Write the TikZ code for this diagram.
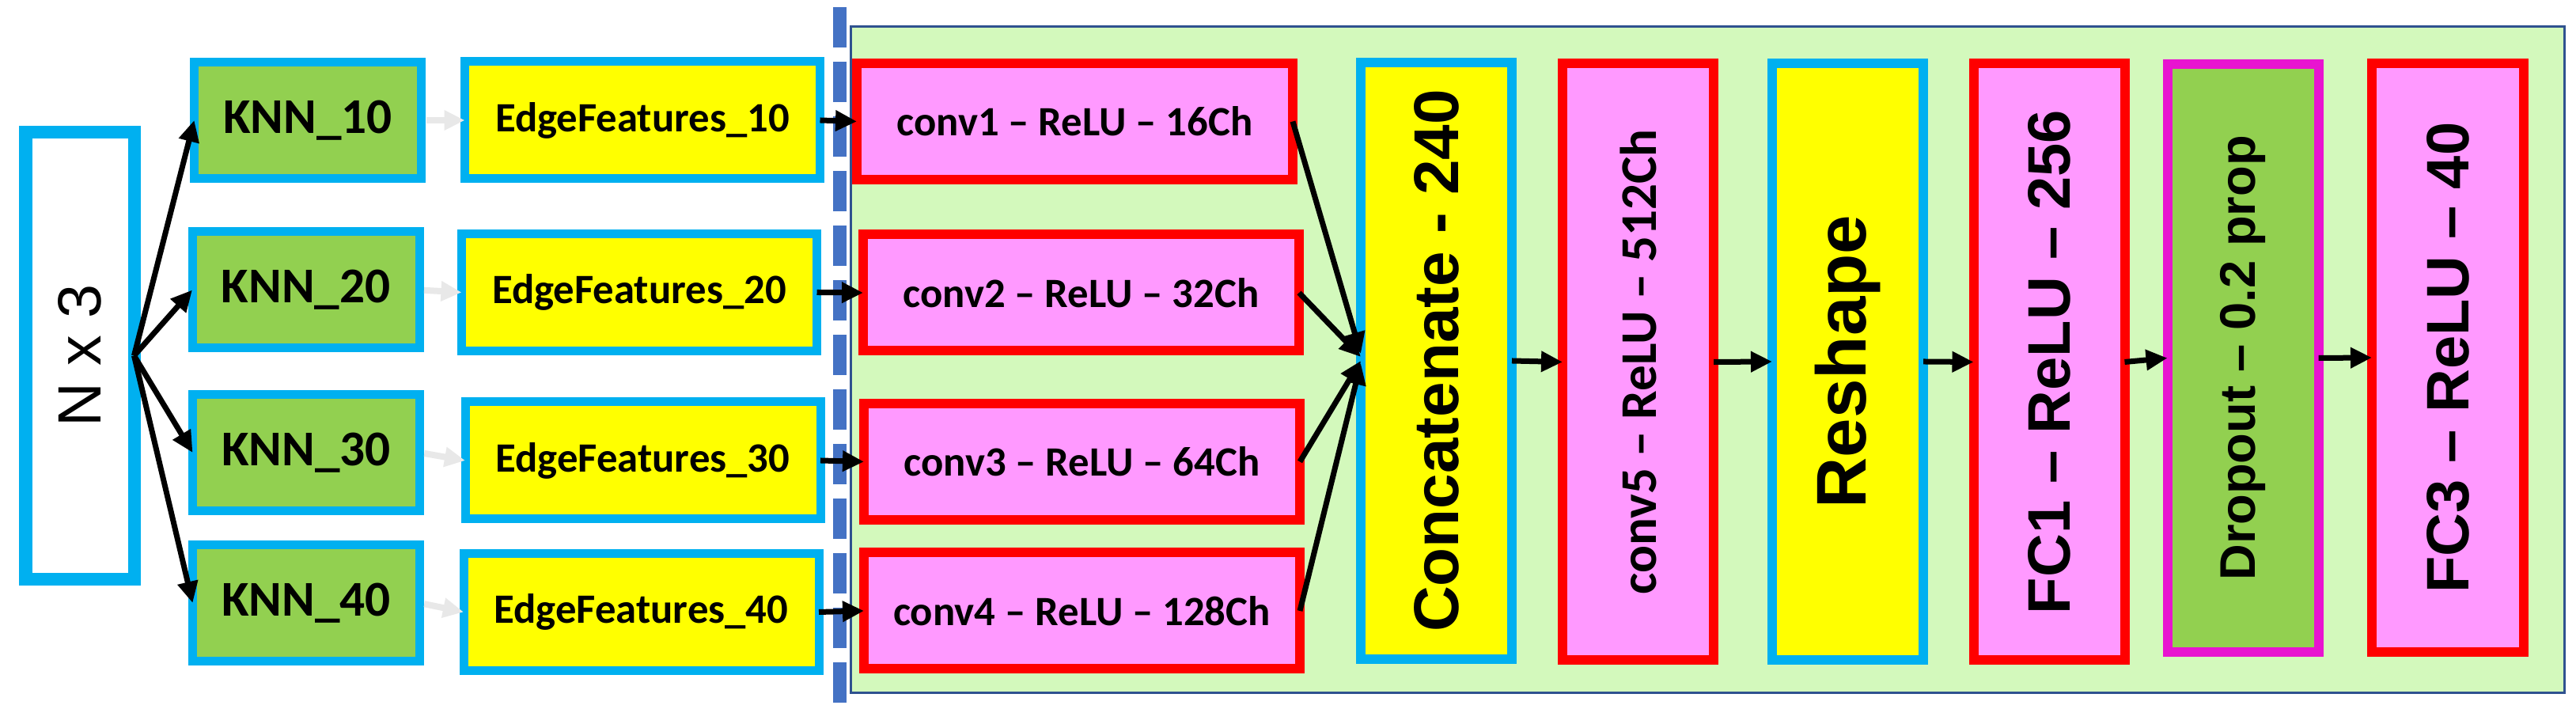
\documentclass[tikz,border=0pt]{standalone}
\usepackage{fontspec}
\usepackage{graphicx}
\usetikzlibrary{arrows.meta}
\newfontfamily\calfont{Carlito}
\newfontfamily\arfont{Liberation Sans}
\definecolor{cyanb}{RGB}{0,176,240}
\definecolor{grn}{RGB}{146,208,80}
\definecolor{yel}{RGB}{255,255,0}
\definecolor{pnk}{RGB}{255,153,255}
\definecolor{rd}{RGB}{255,0,0}
\definecolor{mag}{RGB}{232,20,208}
\definecolor{bgg}{RGB}{211,249,188}
\definecolor{bgb}{RGB}{47,82,143}
\definecolor{dashb}{RGB}{68,114,196}
\definecolor{lgrey}{RGB}{232,232,232}
\tikzset{
  box/.style={draw, line width=0.12cm, inner sep=0pt, outer sep=0pt, align=center},
  knnbox/.style={box, draw=cyanb, fill=grn, line width=0.11cm, minimum width=2.87cm, minimum height=1.47cm,
     font=\calfont\bfseries\fontsize{18pt}{21pt}\selectfont},
  efbox/.style={box, draw=cyanb, fill=yel, line width=0.11cm, minimum width=4.49cm, minimum height=1.48cm,
     font=\calfont\bfseries\fontsize{15pt}{18pt}\selectfont},
  convbox/.style={box, draw=rd, fill=pnk, minimum width=5.51cm, minimum height=1.47cm,
     font=\calfont\bfseries\fontsize{15pt}{18pt}\selectfont},
  tallbox/.style={box, minimum width=1.91cm, minimum height=7.54cm},
  arr/.style={draw=black, line width=0.07cm, -{Triangle[length=0.27cm,width=0.25cm]}},
  garr/.style={draw=lgrey, line width=0.08cm, -{Triangle[length=0.26cm,width=0.24cm]}, shorten <=0.06cm},
}
\begin{document}
\begin{tikzpicture}
\useasboundingbox (0,0) rectangle (32.56,8.96);
\fill[white] (0,0) rectangle (32.56,8.96);

% container
\node[draw=bgb, fill=bgg, line width=0.03cm, inner sep=0pt, outer sep=0pt,
      minimum width=21.66cm, minimum height=8.42cm] (bg) at (21.585,4.415) {};

% dashed separator
\coordinate (dtop) at (10.61,8.87);
\coordinate (dbot) at (10.61,0.08);
\draw[dashb, line width=0.17cm, dash pattern=on 0.51cm off 0.18cm] (dtop) -- (dbot);

% input
\node[box, draw=cyanb, fill=white, line width=0.16cm, minimum width=1.37cm, minimum height=5.65cm] (nx3) at (1.01,4.465)
  {\rotatebox{90}{\arfont\fontsize{22pt}{26pt}\selectfont N x 3}};

% KNN
\node[knnbox] (k1) at (3.89,7.44) {KNN\_10};
\node[knnbox] (k2) at (3.865,5.295) {KNN\_20};
\node[knnbox] (k3) at (3.87,3.24) {KNN\_30};
\node[knnbox] (k4) at (3.87,1.34) {KNN\_40};

% Edge features
\node[efbox] (e1) at (8.12,7.44) {EdgeFeatures\_10};
\node[efbox] (e2) at (8.08,5.265) {EdgeFeatures\_20};
\node[efbox] (e3) at (8.125,3.14) {EdgeFeatures\_30};
\node[efbox] (e4) at (8.105,1.225) {EdgeFeatures\_40};

% conv
\node[convbox] (c1) at (13.585,7.425) {conv1 – ReLU – 16Ch};
\node[convbox] (c2) at (13.665,5.26) {conv2 – ReLU – 32Ch};
\node[convbox] (c3) at (13.675,3.125) {conv3 – ReLU – 64Ch};
\node[convbox] (c4) at (13.675,1.24) {conv4 – ReLU – 128Ch};

% tall boxes
\node[tallbox, draw=cyanb, fill=yel] (cat) at (18.155,4.40)
  {\rotatebox{90}{\arfont\bfseries\fontsize{22.8pt}{26pt}\selectfont Concatenate - 240}};
\node[tallbox, draw=rd, fill=pnk] (c5) at (20.705,4.385)
  {\rotatebox{90}{\calfont\bfseries\fontsize{18.5pt}{22pt}\selectfont conv5 – ReLU – 512Ch}};
\node[tallbox, draw=cyanb, fill=yel] (rs) at (23.355,4.39)
  {\rotatebox{90}{\arfont\bfseries\fontsize{25.3pt}{29pt}\selectfont Reshape}};
\node[tallbox, draw=rd, fill=pnk] (fc1) at (25.90,4.385)
  {\rotatebox{90}{\arfont\bfseries\fontsize{21.6pt}{25pt}\selectfont FC1 – ReLU – 256}};
\node[tallbox, draw=mag, fill=grn, minimum height=7.43cm] (dp) at (28.35,4.435)
  {\rotatebox{90}{\arfont\bfseries\fontsize{18pt}{21pt}\selectfont Dropout – 0.2 prop}};
\node[tallbox, draw=rd, fill=pnk, minimum width=1.92cm, minimum height=7.44cm] (fc3) at (30.94,4.44)
  {\rotatebox{90}{\arfont\bfseries\fontsize{21.6pt}{25pt}\selectfont FC3 – ReLU – 40}};

% arrows input -> KNN
\foreach \k in {k1,k2,k3,k4} \draw[arr] (nx3.east) -- (\k.west);
% grey arrows KNN -> EF
\draw[garr] (k1.east) -- (e1.west);
\draw[garr] (k2.east) -- (e2.west);
\draw[garr] (k3.east) -- (e3.west);
\draw[garr] (k4.east) -- (e4.west);
% EF -> conv
\draw[arr] (e1.east) -- (c1.west);
\draw[arr] (e2.east) -- (c2.west);
\draw[arr] (e3.east) -- (c3.west);
\draw[arr] (e4.east) -- (c4.west);
% conv -> concat
\draw[arr] (c1.east) -- ([yshift=0.09cm]cat.west);
\draw[arr] (c2.east) -- ([yshift=0.05cm]cat.west);
\draw[arr] (c3.east) -- (cat.west);
\draw[arr] (c4.east) -- ([yshift=-0.03cm]cat.west);
% chain
\draw[arr] (cat.east) -- (c5.west);
\draw[arr] (c5.east) -- (rs.west);
\draw[arr] (rs.east) -- (fc1.west);
\draw[arr] (fc1.east) -- (dp.west);
\draw[arr] (dp.east) -- (fc3.west);
\end{tikzpicture}
\end{document}
